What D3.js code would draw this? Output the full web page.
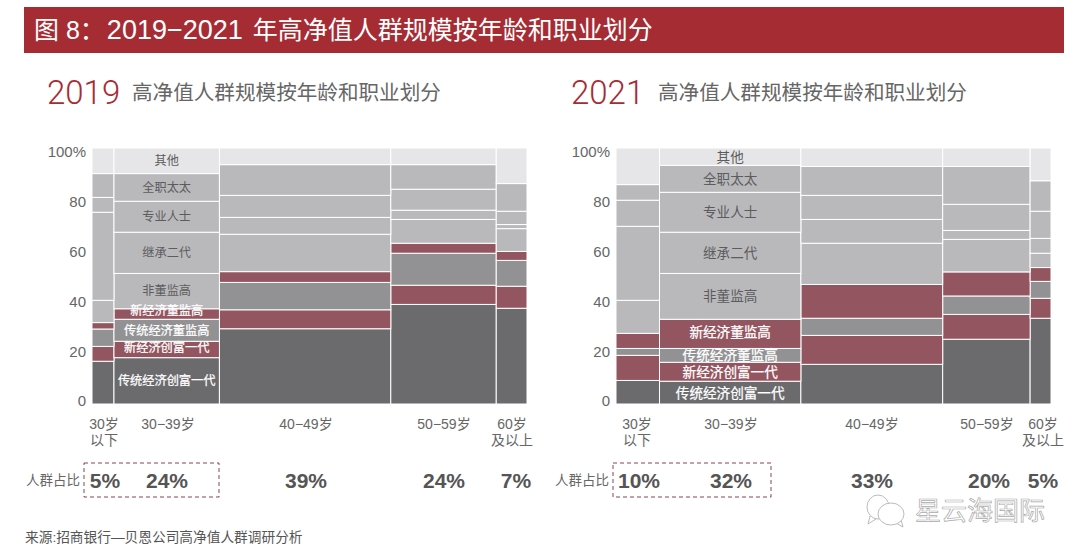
<!DOCTYPE html>
<html>
<head>
<meta charset="utf-8">
<script src="https://cdn.jsdelivr.net/npm/d3@7"></script>
<style>
  html, body { margin: 0; padding: 0; background: #fff; }
  svg { display: block; }
  text { font-family: "Liberation Sans", "Noto Sans CJK SC", sans-serif; }
</style>
</head>
<body>
<svg id="chart" width="1080" height="557"></svg>
<script>
// bottom to top, same order in both panels
const occupations = ["传统经济创富一代", "新经济创富一代", "传统经济董监高", "新经济董监高", "非董监高", "继承二代", "专业人士", "全职太太", "其他"];
const ageGroups = ["30岁\n以下", "30−39岁", "40−49岁", "50−59岁", "60岁\n及以上"];
const yTicks = [0, 20, 40, 60, 80, 100];

const shareLabels2019 = ["5%", "24%", "39%", "24%", "7%"];
const shareLabels2021 = ["10%", "32%", "33%", "20%", "5%"];

// column widths
const widths2019 = [5, 24, 39, 24, 7];
const widths2021 = [10, 32.5, 32.6, 20.1, 4.8];

// one row per age group, one value per occupation
const values2019 = [
  [16.7, 5.8, 6.8, 2.5, 8.7, 34.4, 5.8, 9.3, 10.0],
  [18.1, 6.4, 8.6, 4.1, 13.8, 16.1, 12.1, 10.8, 10.0],
  [29.4, 7.4, 10.7, 4.2, 14.6, 6.6, 8.6, 12.0, 6.5],
  [38.9, 7.5, 12.5, 3.9, 9.3, 3.6, 8.2, 9.6, 6.5],
  [37.4, 8.6, 10.1, 3.5, 8.9, 1.6, 5.2, 10.8, 13.9]
];
const values2021 = [
  [9.2, 9.8, 2.7, 5.9, 12.9, 28.9, 10.2, 6.1, 14.3],
  [8.9, 7.4, 5.4, 11.4, 17.9, 16.1, 15.6, 10.5, 6.8],
  [15.5, 11.3, 6.7, 13.2, 16.1, 9.3, 9.4, 11.3, 7.2],
  [25.3, 9.7, 7.2, 9.4, 12.7, 3.5, 10.2, 14.8, 7.2],
  [33.5, 7.8, 6.6, 5.4, 5.6, 5.8, 10.6, 11.9, 12.8]
];

const colors = ["#6b6b6e", "#93555f", "#929294", "#93555f", "#b9b9bc", "#b9b9bc", "#b9b9bc", "#b9b9bc", "#e6e6e8"];
const labelColors = ["#fff", "#fff", "#fff", "#fff", "#5c5c5c", "#5c5c5c", "#5c5c5c", "#5c5c5c", "#5c5c5c"];

const svg = d3.select("#chart");
const red = "#a62c34", textGrey = "#666";

// title band
svg.append("rect").attr("x", 24).attr("y", 7).attr("width", 1040).attr("height", 46).attr("fill", red);
const title = svg.append("text").attr("x", 34).attr("y", 39).attr("fill", "#fff").attr("font-size", 25);
title.append("tspan").text("图 8：");
title.append("tspan").attr("dx", 2).attr("font-size", 27).text("2019−2021");
title.append("tspan").attr("dx", 3).text(" 年高净值人群规模按年龄和职业划分");

function drawPanel(opts) {
  const { year, values, widths, shares, x0, x1, yearX, subX, labelSize, labelNudge, ageX, shareX, peopleX, box } = opts;
  const g = svg.append("g");

  g.append("text").attr("x", yearX).attr("y", 104).attr("fill", red)
    .style("font-family", "Roboto").style("font-weight", 300).attr("font-size", 33).text(year);
  g.append("text").attr("x", subX).attr("y", 100).attr("fill", textGrey).attr("font-size", 20.6)
    .text("高净值人群规模按年龄和职业划分");

  const total = d3.sum(widths);
  const x = d3.scaleLinear().domain([0, total]).range([x0, x1]);
  const y = d3.scaleLinear().domain([0, 100]).range([404, 148]);
  // the printed tick labels sit slightly inside the plot
  const yLabel = d3.scaleLinear().domain([0, 100]).range([401, 152]);

  const rows = values.map((v, i) => {
    const row = { start: d3.sum(widths.slice(0, i)), width: widths[i], age: ageGroups[i] };
    occupations.forEach((o, j) => { row[o] = v[j]; });
    return row;
  });
  const series = d3.stack().keys(occupations)(rows);

  const layer = g.selectAll("g.layer").data(series).enter().append("g")
    .attr("class", "layer")
    .attr("fill", (d, i) => colors[i]);
  layer.selectAll("rect").data(d => d).enter().append("rect")
    .attr("x", d => x(d.data.start))
    .attr("width", d => x(d.data.start + d.data.width) - x(d.data.start))
    .attr("y", d => y(d[1]))
    .attr("height", d => y(d[0]) - y(d[1]))
    .attr("stroke", "#fff")
    .attr("stroke-width", 1);

  // occupation names live in the 30-39 column
  g.selectAll("text.seg").data(series).enter().append("text")
    .attr("class", "seg")
    .attr("x", d => x(d[1].data.start + d[1].data.width / 2))
    .attr("y", (d, i) => y((d[1][0] + d[1][1]) / 2) + (labelNudge[i] || 0))
    .attr("dy", "0.36em")
    .attr("text-anchor", "middle")
    .attr("font-size", labelSize)
    .attr("fill", (d, i) => labelColors[i])
    .attr("stroke", (d, i) => i < 4 ? "#fff" : "none")
    .attr("stroke-width", 0.25)
    .text(d => d.key);

  const axis = g.append("g")
    .attr("transform", "translate(" + x0 + ",0)")
    .call(d3.axisLeft(yLabel).tickValues(yTicks).tickSize(0).tickPadding(6)
      .tickFormat(d => d === 100 ? "100%" : d));
  axis.select(".domain").remove();
  axis.selectAll("text").attr("font-size", 15).attr("fill", textGrey);

  // age groups below the plot
  ageGroups.forEach((a, i) => {
    a.split("\n").forEach((line, k) => {
      g.append("text").attr("x", ageX[i]).attr("y", 429 + k * 16)
        .attr("text-anchor", "middle").attr("font-size", 14).attr("fill", textGrey).text(line);
    });
  });

  g.append("text").attr("x", peopleX).attr("y", 485).attr("font-size", 13.5).attr("fill", textGrey).text("人群占比");
  g.append("rect").attr("x", box[0]).attr("y", 463).attr("width", box[1] - box[0]).attr("height", 34)
    .attr("fill", "none").attr("stroke", "#7d2f3b").attr("stroke-width", 0.9).attr("stroke-dasharray", "4,3");
  g.selectAll("text.share").data(shares).enter().append("text")
    .attr("class", "share")
    .attr("x", (d, i) => shareX[i]).attr("y", 488)
    .attr("text-anchor", "middle").attr("font-size", 21).attr("font-weight", 700).attr("fill", "#555")
    .text(d => d);
}

drawPanel({
  year: "2019", values: values2019, widths: widths2019, shares: shareLabels2019,
  x0: 92, x1: 527, yearX: 47, subX: 132, labelSize: 12.2, labelNudge: { 1: -2, 3: -3 },
  ageX: [104, 168, 306, 444, 512], shareX: [105, 167, 306, 444, 516], peopleX: 26, box: [84, 219]
});
drawPanel({
  year: "2021", values: values2021, widths: widths2021, shares: shareLabels2021,
  x0: 616, x1: 1051, yearX: 571, subX: 658, labelSize: 13.6, labelNudge: { 3: -2 },
  ageX: [637, 731, 872, 987, 1043], shareX: [639, 731, 872, 989, 1043], peopleX: 555, box: [613, 771]
});

svg.append("text").attr("x", 25).attr("y", 542).attr("font-size", 13.7).attr("fill", "#555")
  .text("来源:招商银行—贝恩公司高净值人群调研分析");

// watermark
const wm = svg.append("g").attr("fill", "#fff").attr("stroke", "#aaa").attr("stroke-width", 0.8);
wm.append("path").attr("d", "M870 516 L868 524 L876 519");
wm.append("ellipse").attr("cx", 878).attr("cy", 507).attr("rx", 11).attr("ry", 12);
wm.append("path").attr("d", "M896 523 L903 527 L901 520");
wm.append("ellipse").attr("cx", 891).attr("cy", 514).attr("rx", 13).attr("ry", 11);
wm.append("text").attr("x", 915).attr("y", 520).attr("font-size", 26).attr("stroke-width", 0.7)
  .text("星云海国际");
</script>
</body>
</html>
